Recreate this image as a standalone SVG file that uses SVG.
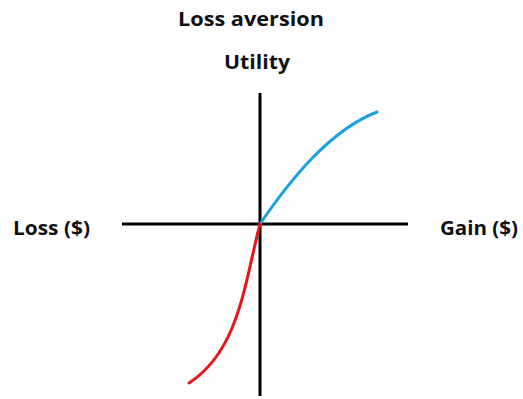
<svg xmlns="http://www.w3.org/2000/svg" width="523" height="399" viewBox="0 0 523 399">
<style>
text{font-family:"Open Sans","Liberation Sans",Arial,sans-serif;font-weight:bold;font-size:19px;fill:#111;}
.axis{stroke:#000;stroke-width:3;fill:none;}
.curve{stroke-width:3;fill:none;stroke-linecap:round;}
</style>
<rect width="523" height="399" fill="#fff"/>
<g id="title"><text x="251" y="26" text-anchor="middle" textLength="146" lengthAdjust="spacingAndGlyphs">Loss aversion</text></g>
<g id="utility"><text x="257" y="69" text-anchor="middle" textLength="66" lengthAdjust="spacingAndGlyphs">Utility</text></g>
<g id="loss"><text x="13" y="235" textLength="77" lengthAdjust="spacingAndGlyphs">Loss ($)</text></g>
<g id="gain"><text x="440" y="235" textLength="78" lengthAdjust="spacingAndGlyphs">Gain ($)</text></g>
<g id="connectors">
<line class="axis" x1="260" y1="93" x2="260" y2="396"/>
<line class="axis" x1="122" y1="224" x2="408" y2="224"/>
<path class="curve" stroke="#1ba1e2" d="M260,224 C290,180 330,130 377,112"/>
<path class="curve" stroke="#e8141c" d="M260,224 C245,280 240,350 189,383"/>
</g>
</svg>
